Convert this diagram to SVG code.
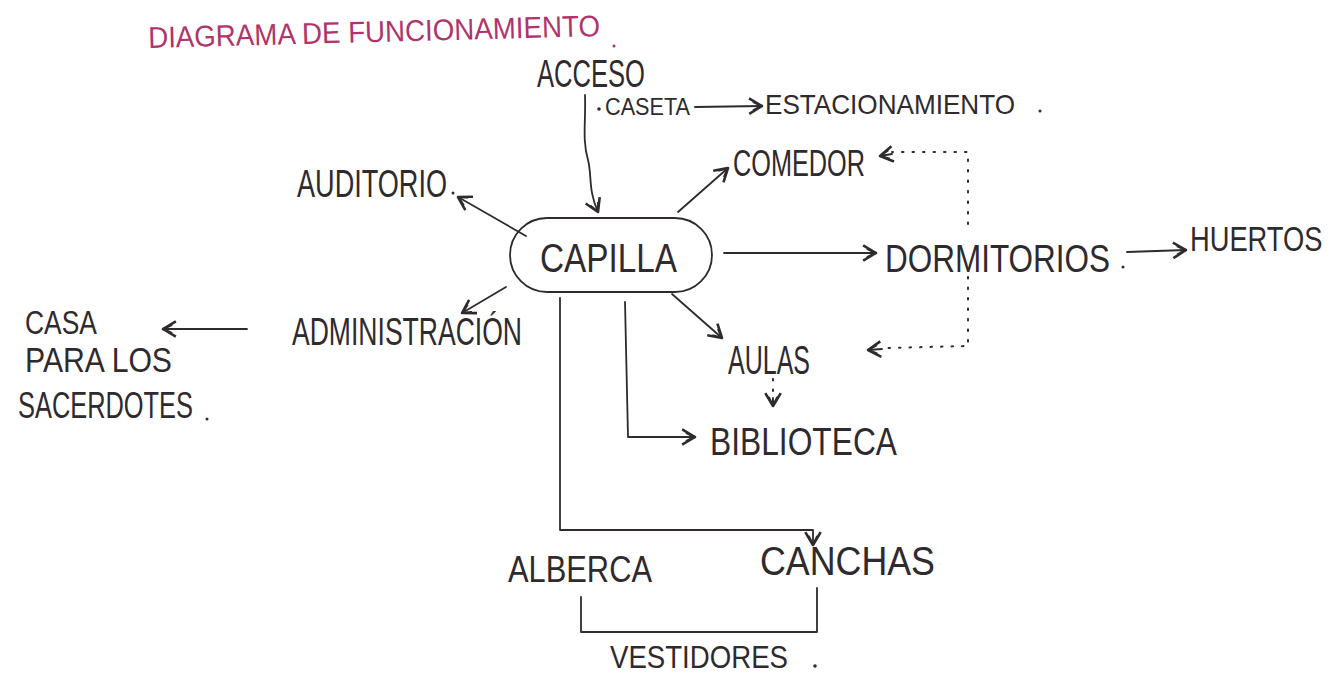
<svg xmlns="http://www.w3.org/2000/svg" width="1340" height="673" viewBox="0 0 1340 673">
<defs>
<style>
.t{font-family:"Liberation Sans","DejaVu Sans",sans-serif;fill:#2e2a2e;font-weight:normal}
.ttl{font-family:"Liberation Sans","DejaVu Sans",sans-serif;fill:#b0336c}
.c{fill:none;stroke:#2e2a2e;stroke-width:1.8;stroke-linecap:round;stroke-linejoin:round}
.d{fill:none;stroke:#2e2a2e;stroke-width:2;stroke-dasharray:1.5 9;stroke-linecap:round}
.dot{fill:#2e2a2e}
</style>
<marker id="ah" viewBox="0 0 14 14" refX="12" refY="7" markerWidth="18" markerHeight="18" markerUnits="userSpaceOnUse" orient="auto">
<path d="M2,1 L12,7 L2,13 M5,3.5 L12,7 L5,10.5" fill="none" stroke="#2e2a2e" stroke-width="2" stroke-linejoin="round"/>
</marker>
</defs>
<rect width="1340" height="673" fill="#ffffff"/>

<g id="title">
<text class="ttl" x="148" y="42" font-size="30" textLength="452" lengthAdjust="spacingAndGlyphs" transform="rotate(-1.5 374 30)">DIAGRAMA DE FUNCIONAMIENTO</text>
<circle cx="614" cy="46" r="1.5" fill="#b0336c"/>
</g>

<g id="connectors">
<path class="c" d="M585,95 C586,120 582,140 588,160 C592,175 588,190 598,212" marker-end="url(#ah)"/>
<path class="c" d="M695,107 L762,106" marker-end="url(#ah)"/>
<path class="c" d="M678,212 L728,168" marker-end="url(#ah)"/>
<path class="c" d="M526,236 L458,197" marker-end="url(#ah)"/>
<path class="c" d="M724,253 L876,253" marker-end="url(#ah)"/>
<path class="c" d="M1127,252 L1186,250" marker-end="url(#ah)"/>
<path class="c" d="M506,287 L462,313" marker-end="url(#ah)"/>
<path class="c" d="M247,329 L163,329" marker-end="url(#ah)"/>
<path class="c" d="M672,294 L722,338" marker-end="url(#ah)"/>
<path class="d" d="M773,379 L773,403"/>
<path class="c" d="M773,398 L773,406" marker-end="url(#ah)"/>
<path class="c" d="M625,302 L628,437 L695,437" marker-end="url(#ah)"/>
<path class="c" d="M560,298 L560,530 L813,530 L813,545" marker-end="url(#ah)"/>
<path class="d" d="M968,224 L968,152 L892,152"/>
<path class="c" d="M892,154 L880,156" marker-end="url(#ah)"/>
<path class="d" d="M968,277 L968,346 L885,348"/>
<path class="c" d="M882,349 L868,350" marker-end="url(#ah)"/>
<path class="c" d="M581,597 L581,632 L817,632 L817,588"/>
</g>

<g id="acceso"><text class="t" x="537" y="87" font-size="38" textLength="108" lengthAdjust="spacingAndGlyphs">ACCESO</text></g>
<g id="caseta">
<circle class="dot" cx="599" cy="109" r="1.8"/>
<text class="t" x="605" y="115" font-size="23" textLength="85" lengthAdjust="spacingAndGlyphs">CASETA</text>
</g>
<g id="estacionamiento">
<text class="t" x="765" y="114" font-size="28" textLength="250" lengthAdjust="spacingAndGlyphs">ESTACIONAMIENTO</text>
<circle class="dot" cx="1040" cy="111" r="1.5"/>
</g>
<g id="comedor"><text class="t" x="733" y="176" font-size="36" textLength="132" lengthAdjust="spacingAndGlyphs">COMEDOR</text></g>
<g id="auditorio">
<text class="t" x="297" y="197" font-size="38" textLength="150" lengthAdjust="spacingAndGlyphs">AUDITORIO</text>
<circle class="dot" cx="453" cy="193" r="1.5"/>
</g>
<g id="capilla">
<rect x="510" y="218" width="202" height="74" rx="37" ry="37" class="c"/>
<text class="t" x="540" y="272" font-size="40" textLength="137" lengthAdjust="spacingAndGlyphs">CAPILLA</text>
</g>
<g id="dormitorios">
<text class="t" x="885" y="272" font-size="38" textLength="225" lengthAdjust="spacingAndGlyphs">DORMITORIOS</text>
<circle class="dot" cx="1123" cy="267" r="1.5"/>
</g>
<g id="huertos" transform="translate(1190 251) scale(0.78 1)"><text class="t" x="0" y="0" font-size="35">HUERTOS</text></g>
<g id="administracion"><text class="t" x="292" y="345" font-size="38" textLength="230" lengthAdjust="spacingAndGlyphs">ADMINISTRACIÓN</text></g>
<g id="casa">
<text class="t" x="25" y="334" font-size="33" textLength="72" lengthAdjust="spacingAndGlyphs">CASA</text>
<text class="t" x="25" y="372" font-size="35" textLength="147" lengthAdjust="spacingAndGlyphs">PARA LOS</text>
<text class="t" x="18" y="418" font-size="37" textLength="175" lengthAdjust="spacingAndGlyphs">SACERDOTES</text>
<circle class="dot" cx="207" cy="419" r="1.5"/>
</g>
<g id="aulas"><text class="t" x="728" y="374" font-size="40" textLength="82" lengthAdjust="spacingAndGlyphs">AULAS</text></g>
<g id="biblioteca"><text class="t" x="710" y="455" font-size="38" textLength="187" lengthAdjust="spacingAndGlyphs">BIBLIOTECA</text></g>
<g id="alberca"><text class="t" x="508" y="582" font-size="36" textLength="144" lengthAdjust="spacingAndGlyphs">ALBERCA</text></g>
<g id="canchas"><text class="t" x="760" y="575" font-size="40" textLength="175" lengthAdjust="spacingAndGlyphs">CANCHAS</text></g>
<g id="vestidores">
<text class="t" x="610" y="668" font-size="31" textLength="178" lengthAdjust="spacingAndGlyphs">VESTIDORES</text>
<circle class="dot" cx="815" cy="666" r="1.8"/>
</g>
</svg>
